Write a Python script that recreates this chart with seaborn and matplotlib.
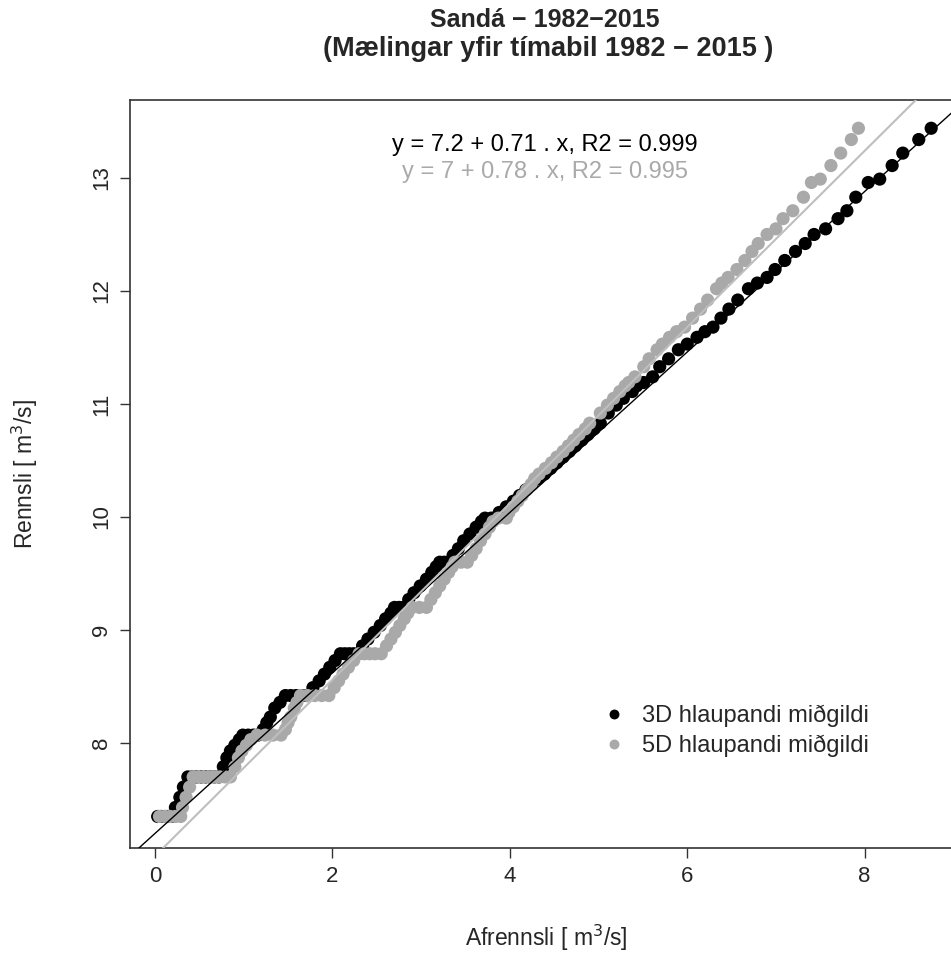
import numpy as np
import pandas as pd
import matplotlib
matplotlib.use("Agg")
import matplotlib.pyplot as plt
import seaborn as sns

# ---- data ----
# shared observed quantiles (Rennsli)
rennsli = [
    7.35, 7.35, 7.35, 7.35, 7.35,
    7.43, 7.52, 7.61,
    7.70, 7.70, 7.70, 7.70, 7.70, 7.70, 7.70, 7.70,
    7.79, 7.87, 7.93, 7.98, 8.03,
    8.07, 8.07, 8.07, 8.07,
    8.12, 8.18, 8.23, 8.31, 8.36,
    8.42, 8.42, 8.42, 8.42, 8.42,
    8.49, 8.55, 8.61, 8.67, 8.73,
    8.79, 8.79, 8.79, 8.79, 8.79,
    8.86, 8.92, 8.98, 9.04, 9.10, 9.15,
    9.20, 9.20, 9.20,
    9.27, 9.33, 9.39, 9.45, 9.51, 9.56,
    9.60, 9.60, 9.60,
    9.66, 9.72, 9.79, 9.85, 9.91, 9.96,
    9.99, 9.99,
    10.04, 10.09, 10.14, 10.19, 10.24, 10.29, 10.34, 10.38,
    10.43, 10.48, 10.53, 10.58, 10.63, 10.68, 10.73, 10.78,
    10.83, 10.92, 10.99, 11.05, 11.11, 11.16, 11.19, 11.24,
    11.33, 11.40, 11.48, 11.53, 11.59, 11.64, 11.68, 11.76,
    11.84, 11.92, 12.02, 12.07, 12.12, 12.19, 12.27, 12.35,
    12.42, 12.50, 12.55, 12.64, 12.71, 12.83, 12.96, 12.99,
    13.11, 13.22, 13.34, 13.44,
]
# 3D running median (Afrennsli)
afrennsli_3d = [
    0.03, 0.07, 0.11, 0.15, 0.19,
    0.23, 0.28, 0.32,
    0.37, 0.42, 0.47, 0.52, 0.57, 0.62, 0.67, 0.72,
    0.77, 0.81, 0.85, 0.90, 0.95,
    0.99, 1.05, 1.11, 1.16,
    1.22, 1.26, 1.30, 1.35, 1.41,
    1.47, 1.53, 1.59, 1.65, 1.71,
    1.78, 1.85, 1.91, 1.97, 2.03,
    2.09, 2.14, 2.19, 2.24, 2.29,
    2.34, 2.40, 2.47, 2.54, 2.60, 2.66,
    2.70, 2.75, 2.80,
    2.86, 2.92, 2.99, 3.06, 3.12, 3.17,
    3.21, 3.26, 3.31,
    3.36, 3.42, 3.48, 3.55, 3.62, 3.68,
    3.72, 3.79,
    3.88, 3.96, 4.04, 4.11, 4.18, 4.25, 4.32, 4.39,
    4.46, 4.53, 4.60, 4.67, 4.74, 4.81, 4.88, 4.95,
    5.02, 5.11, 5.20, 5.28, 5.38, 5.43, 5.51, 5.61,
    5.69, 5.79, 5.90, 6.00, 6.11, 6.20, 6.29, 6.38,
    6.47, 6.57, 6.69, 6.79, 6.90, 6.99, 7.10, 7.22,
    7.33, 7.43, 7.56, 7.70, 7.80, 7.90, 8.04, 8.17,
    8.31, 8.43, 8.61, 8.75,
]
# 5D running median (Afrennsli)
afrennsli_5d = [
    0.05, 0.11, 0.17, 0.23, 0.29,
    0.31, 0.35, 0.39,
    0.43, 0.49, 0.55, 0.61, 0.67, 0.73, 0.79, 0.85,
    0.90, 0.94, 0.98, 1.03, 1.08,
    1.15, 1.24, 1.33, 1.42,
    1.47, 1.50, 1.53, 1.57, 1.60,
    1.64, 1.72, 1.80, 1.88, 1.96,
    2.02, 2.07, 2.12, 2.18, 2.24,
    2.30, 2.36, 2.42, 2.48, 2.55,
    2.61, 2.66, 2.71, 2.76, 2.81, 2.85,
    2.90, 2.98, 3.06,
    3.11, 3.16, 3.21, 3.26, 3.31, 3.35,
    3.38, 3.45, 3.52,
    3.57, 3.62, 3.67, 3.72, 3.77, 3.81,
    3.87, 3.96,
    3.99, 4.04, 4.09, 4.14, 4.19, 4.24, 4.28, 4.33,
    4.40, 4.47, 4.53, 4.60, 4.66, 4.72, 4.78, 4.85,
    4.90, 5.02, 5.10, 5.17, 5.24, 5.30, 5.34, 5.41,
    5.51, 5.57, 5.66, 5.72, 5.80, 5.88, 5.97, 6.06,
    6.15, 6.23, 6.33, 6.39, 6.46, 6.56, 6.65, 6.73,
    6.80, 6.90, 7.00, 7.08, 7.19, 7.31, 7.40, 7.50,
    7.62, 7.73, 7.85, 7.93,
]
series_names = ["3D hlaupandi miðgildi", "5D hlaupandi miðgildi"]
fit_intercepts = [7.2, 7.0]
fit_slopes = [0.71, 0.78]
fit_labels = ["y = 7.2 + 0.71 . x, R2 = 0.999", "y = 7 + 0.78 . x, R2 = 0.995"]
x_ticks = [0, 2, 4, 6, 8]
y_ticks = [8, 9, 10, 11, 12, 13]

# ---- styling ----
sns.set_theme(style="white")
plt.rcParams["font.family"] = ["Liberation Sans", "DejaVu Sans"]
point_colors = ["#000000", "#A9A9A9"]
line_colors = ["#000000", "#BEBEBE"]
text_colors = ["#000000", "#A9A9A9"]

df = pd.concat([
    pd.DataFrame({"Afrennsli": afrennsli_3d, "Rennsli": rennsli, "series": series_names[0]}),
    pd.DataFrame({"Afrennsli": afrennsli_5d, "Rennsli": rennsli, "series": series_names[1]}),
], ignore_index=True)

W, H = 951, 955
fig = plt.figure(figsize=(W / 100, H / 100), dpi=100)
left_px, right_px, top_px, bottom_px = 130, 960, 100, 848
ax = fig.add_axes([left_px / W, 1 - bottom_px / H, (right_px - left_px) / W, (bottom_px - top_px) / H])

sns.scatterplot(data=df, x="Afrennsli", y="Rennsli", hue="series", hue_order=series_names,
                palette=dict(zip(series_names, point_colors)), s=90, linewidth=0,
                ax=ax, legend=True, zorder=2)

for a, b, c, lw in zip(fit_intercepts, fit_slopes, line_colors, [1.0, 1.5]):
    ax.axline((0, a), slope=b, color=c, lw=lw, zorder=3)

ax.set_xlim(-0.282, 9.075)
ax.set_ylim(7.071, 13.69)
ax.set_xticks(x_ticks)
ax.set_yticks(y_ticks)
ax.set_xticklabels([str(v) for v in x_ticks], fontsize=16)
ax.set_yticklabels([str(v) for v in y_ticks], fontsize=16, rotation=90, va="center")
ax.tick_params(axis="both", direction="out", length=7, width=1, color="#333333", pad=6,
               bottom=True, left=True)
for sp in ax.spines.values():
    sp.set_color("#333333")
    sp.set_linewidth(1.2)
ax.set_xlabel("")
ax.set_ylabel("")

fig.text(546 / W, 1 - 938 / H, "Afrennsli [ m$^3$/s]", ha="center", va="center", fontsize=16.5)
fig.text(25 / W, 1 - 474 / H, "Rennsli [ m$^3$/s]", ha="center", va="center", fontsize=16.5, rotation=90)

fig.text(545 / W, 1 - 20 / H, "Sandá − 1982−2015", ha="center", va="center",
         fontsize=18, fontweight="bold")
fig.text(548 / W, 1 - 49 / H, "(Mælingar yfir tímabil 1982 − 2015 )", ha="center", va="center",
         fontsize=19.5, fontweight="bold")

for i, (lab, c) in enumerate(zip(fit_labels, text_colors)):
    fig.text(545 / W, 1 - (145 + 27 * i) / H, lab, ha="center", va="center", fontsize=17, color=c)

handles, labels = ax.get_legend_handles_labels()
ax.legend(handles, labels, frameon=False, loc="upper left",
          bbox_to_anchor=(590 / W, 1 - 705 / H), bbox_transform=fig.transFigure,
          fontsize=17, handletextpad=0.2, labelspacing=0.3, markerscale=0.75,
          borderaxespad=0, borderpad=0)

fig.savefig("out.png", dpi=100)
